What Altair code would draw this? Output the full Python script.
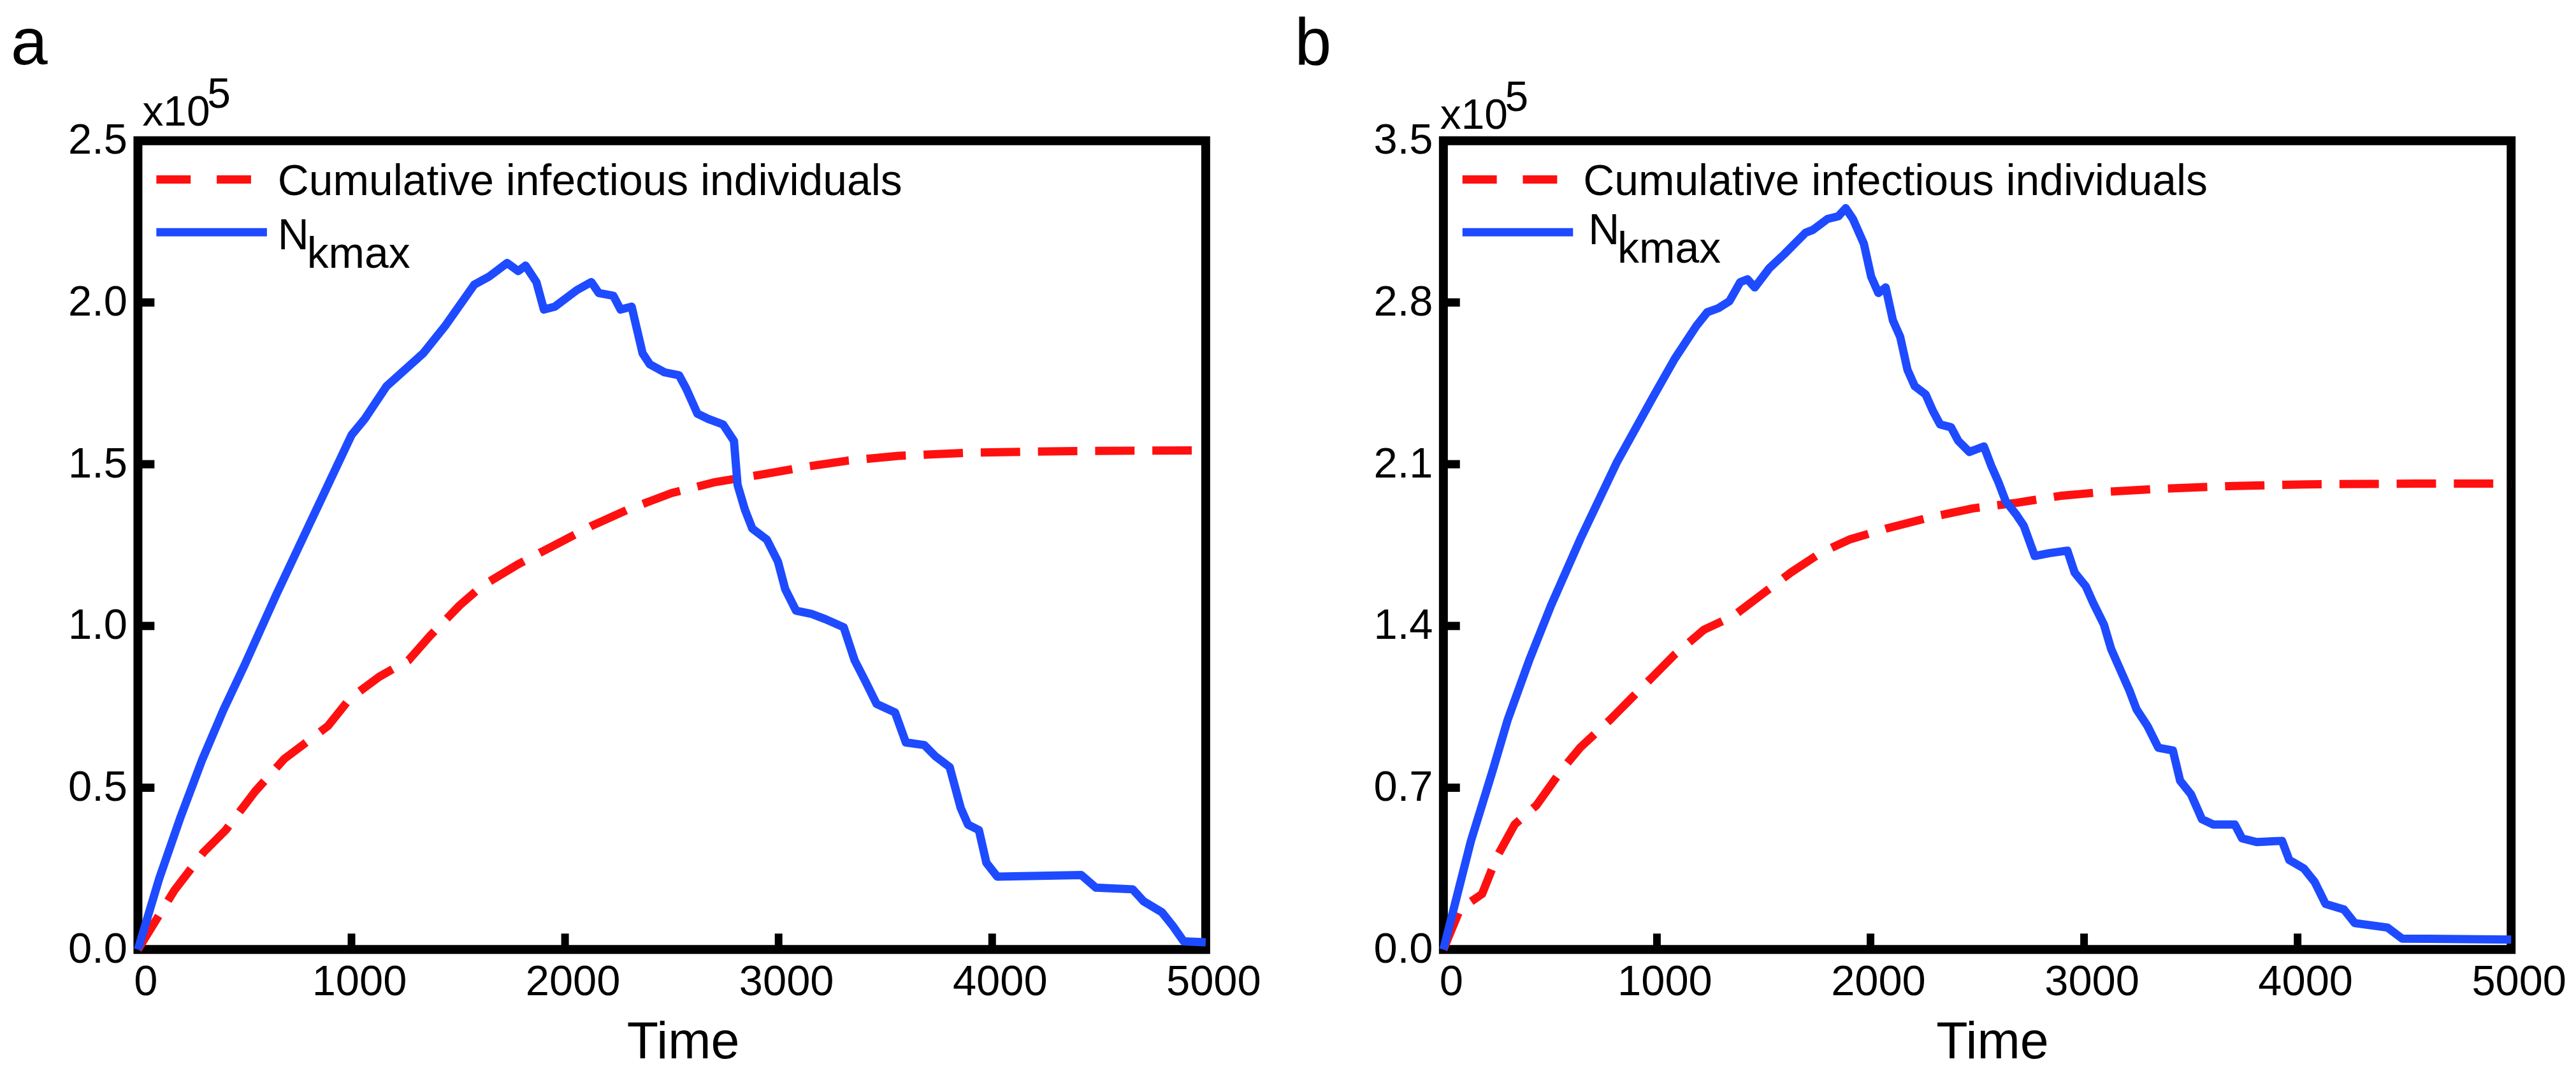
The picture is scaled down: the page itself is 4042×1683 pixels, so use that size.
import altair as alt
import pandas as pd

# ---------------- data (Time, value in units of 1e5) ----------------
A_BLUE_T = [0, 100, 200, 300, 400, 500, 650, 800, 1000, 1062, 1164, 1336, 1438, 1575, 1644, 1729,
            1781, 1815, 1866, 1901, 1952, 2055, 2123, 2158, 2226, 2260, 2312, 2363, 2397, 2466,
            2534, 2568, 2620, 2671, 2740, 2791, 2808, 2842, 2877, 2945, 2997, 3031, 3082, 3151,
            3219, 3305, 3356, 3408, 3459, 3545, 3596, 3682, 3733, 3801, 3853, 3887, 3938, 3973,
            4024, 4418, 4486, 4658, 4709, 4795, 4846, 4897, 5000]
A_BLUE_V = [0.0, 0.22, 0.41, 0.585, 0.74, 0.88, 1.10, 1.31, 1.59, 1.64, 1.741, 1.843, 1.927, 2.055,
            2.08, 2.122, 2.097, 2.114, 2.063, 1.978, 1.987, 2.038, 2.063, 2.029, 2.021, 1.978,
            1.987, 1.843, 1.809, 1.784, 1.775, 1.733, 1.656, 1.64, 1.623, 1.572, 1.436, 1.36,
            1.301, 1.267, 1.199, 1.114, 1.047, 1.038, 1.021, 0.996, 0.894, 0.827, 0.759, 0.733,
            0.64, 0.632, 0.598, 0.564, 0.437, 0.386, 0.369, 0.268, 0.225, 0.230, 0.191, 0.186,
            0.149, 0.115, 0.073, 0.025, 0.022]
A_RED_T = [0, 171, 308, 411, 548, 685, 788, 890, 993, 1130, 1267, 1370, 1507, 1610, 1781, 1952,
           2123, 2295, 2500, 2705, 2911, 3116, 3322, 3562, 3904, 4418, 5000]
A_RED_V = [0.0, 0.183, 0.301, 0.369, 0.488, 0.589, 0.640, 0.691, 0.776, 0.843, 0.894, 0.971, 1.064,
           1.123, 1.191, 1.25, 1.309, 1.36, 1.411, 1.445, 1.467, 1.491, 1.511, 1.526, 1.536,
           1.541, 1.543]

B_BLUE_T = [0, 129, 232, 300, 402, 504, 640, 811, 981, 1083, 1185, 1236, 1287, 1339, 1390, 1424,
            1458, 1526, 1594, 1696, 1730, 1798, 1849, 1884, 1918, 1969, 2003, 2037, 2071, 2105,
            2139, 2173, 2207, 2258, 2292, 2326, 2377, 2411, 2463, 2531, 2565, 2599, 2633, 2684,
            2718, 2769, 2837, 2922, 2956, 3008, 3042, 3093, 3127, 3178, 3212, 3246, 3297, 3348,
            3416, 3450, 3501, 3552, 3604, 3706, 3740, 3808, 3927, 3961, 4029, 4080, 4131, 4217,
            4268, 4421, 4489, 5000]
B_BLUE_V = [0.0, 0.470, 0.778, 0.991, 1.252, 1.489, 1.774, 2.106, 2.390, 2.556, 2.699, 2.758, 2.775,
            2.805, 2.888, 2.900, 2.865, 2.948, 3.007, 3.102, 3.114, 3.161, 3.173, 3.208, 3.161,
            3.054, 2.912, 2.841, 2.865, 2.722, 2.651, 2.509, 2.438, 2.402, 2.331, 2.272, 2.260,
            2.201, 2.153, 2.177, 2.094, 2.023, 1.940, 1.880, 1.833, 1.703, 1.715, 1.726, 1.631,
            1.572, 1.501, 1.406, 1.300, 1.193, 1.122, 1.039, 0.967, 0.873, 0.861, 0.730, 0.671,
            0.564, 0.541, 0.541, 0.481, 0.465, 0.470, 0.387, 0.351, 0.292, 0.197, 0.173, 0.114,
            0.095, 0.047, 0.043]
B_RED_T = [0, 78, 181, 249, 334, 436, 555, 640, 777, 879, 981, 1083, 1219, 1356, 1492, 1628, 1764,
           1901, 2071, 2275, 2480, 2684, 2888, 3093, 3365, 3706, 4046, 4557, 5000]
B_RED_V = [0.0, 0.175, 0.24, 0.398, 0.541, 0.624, 0.778, 0.873, 0.991, 1.086, 1.181, 1.276, 1.383,
           1.442, 1.537, 1.632, 1.715, 1.774, 1.821, 1.869, 1.909, 1.933, 1.963, 1.980, 1.994,
           2.006, 2.013, 2.016, 2.016]

X_TICKS = [0, 1000, 2000, 3000, 4000, 5000]
A_Y_TICKS = [0.0, 0.5, 1.0, 1.5, 2.0, 2.5]
B_Y_TICKS = [0.0, 0.7, 1.4, 2.1, 2.8, 3.5]
PANEL_LABELS = ["a", "b"]
LEGEND_RED = "Cumulative infectious individuals"
LEGEND_BLUE = "N"
LEGEND_BLUE_SUB = "kmax"
X_TITLE = "Time"
EXP_BASE = "x10"
EXP_POW = "5"

# ---------------- style ----------------
FONT = "Liberation Sans"
W, H = 1680, 1272
RED = "#FF1010"
BLUE = "#1E4BFF"
LW = 13


def txt(s, x, y, size, align="left", baseline="alphabetic"):
    return alt.Chart(pd.DataFrame({"s": [s]})).mark_text(
        font=FONT, fontSize=size, color="black", align=align, baseline=baseline
    ).encode(x=alt.value(x), y=alt.value(y), text="s:N")


def panel(blue_t, blue_v, red_t, red_v, yticks, letter, o, anchor=False):
    xs = alt.Scale(domain=[0, 5000], nice=False, zero=False)
    ys = alt.Scale(domain=[0, yticks[-1]], nice=False, zero=False)
    xaxis = alt.Axis(values=X_TICKS, format="d", ticks=False, domain=False, grid=False,
                     labelFont=FONT, labelFontSize=67, labelColor="black", labelPadding=18,
                     labelOffset=12, labelFlush=False, labelOverlap=False, title=None)
    yaxis = alt.Axis(values=yticks, format=".1f", ticks=False, domain=False, grid=False,
                     labelFont=FONT, labelFontSize=67, labelColor="black", labelPadding=17,
                     labelFlush=False, labelOverlap=False, title=None)
    X = alt.X("t:Q", scale=xs, axis=xaxis)
    Y = alt.Y("v:Q", scale=ys, axis=yaxis)

    red = alt.Chart(pd.DataFrame({"t": red_t, "v": red_v})).mark_line(
        color=RED, strokeWidth=LW, strokeDash=[62, 28], strokeJoin="round"
    ).encode(x=X, y=Y)
    blue = alt.Chart(pd.DataFrame({"t": blue_t, "v": blue_v})).mark_line(
        color=BLUE, strokeWidth=LW, strokeJoin="round"
    ).encode(x=X, y=Y)

    xt = alt.Chart(pd.DataFrame({"t": X_TICKS[1:-1]})).mark_rule(color="black", strokeWidth=12).encode(
        x=X, y=alt.value(H), y2=alt.value(H - 25))
    yt = alt.Chart(pd.DataFrame({"v": yticks[1:-1]})).mark_rule(color="black", strokeWidth=13).encode(
        y=Y, x=alt.value(0), x2=alt.value(26))

    one = pd.DataFrame({"k": [0]})
    leg_red = alt.Chart(one).mark_rule(color=RED, strokeWidth=LW, strokeDash=[54, 41]).encode(
        x=alt.value(o["lx"]), x2=alt.value(o["lx"] + 150), y=alt.value(61))
    leg_blue = alt.Chart(one).mark_rule(color=BLUE, strokeWidth=LW).encode(
        x=alt.value(o["lx"]), x2=alt.value(o["lx"] + 174), y=alt.value(o["by"]))

    layers = [red, blue, xt, yt, leg_red, leg_blue,
              txt(LEGEND_RED, 220, 86, 68),
              txt(LEGEND_BLUE, o["nx"], o["ny"], 68),
              txt(LEGEND_BLUE_SUB, o["nx"] + 46, o["ny"] + 29, 68),
              txt(EXP_BASE, o["ex"], o["ey"], 66),
              txt(EXP_POW, o["ex"] + 102, o["ey"] - 28, 66),
              txt(letter, o["px"], -120, 104),
              txt(X_TITLE, o["tx"], 1443, 81, align="center")]
    if anchor:
        layers.append(alt.Chart(one).mark_rect(opacity=0).encode(
            x=alt.value(-202), x2=alt.value(-195), y=alt.value(-204), y2=alt.value(-198)))
    return alt.layer(*layers).properties(width=W, height=H)


pa = panel(A_BLUE_T, A_BLUE_V, A_RED_T, A_RED_V, A_Y_TICKS, PANEL_LABELS[0],
           dict(lx=29, by=144, nx=220, ny=171, ex=7, ey=-24, px=-200, tx=858), anchor=True)
pb = panel(B_BLUE_T, B_BLUE_V, B_RED_T, B_RED_V, B_Y_TICKS, PANEL_LABELS[1],
           dict(lx=30, by=144, nx=228, ny=163, ex=-5, ey=-19, px=-234, tx=864))

chart = alt.hconcat(pa, pb, spacing=374, bounds="flush").properties(
    padding=0, background="white"
).configure_view(stroke="black", strokeWidth=14)

chart.save("out.html", embed_options={"renderer": "svg", "actions": False})
